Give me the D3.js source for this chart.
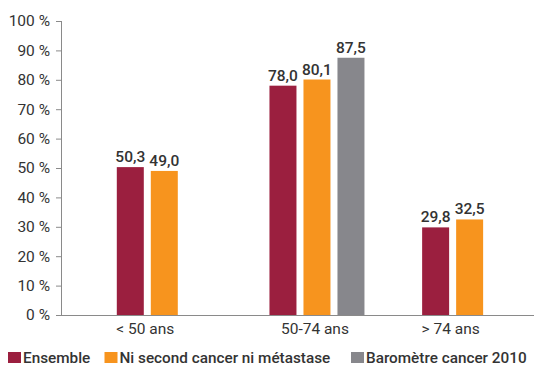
<!DOCTYPE html>
<html><head><meta charset="utf-8">
<script src="https://cdn.jsdelivr.net/npm/d3@7"></script>
<style>
body{margin:0;background:#fff;}
svg{display:block;font-family:Roboto,"Noto Sans",sans-serif;}
</style></head>
<body>
<svg id="c" width="535" height="366"></svg>
<script>
const categories = ["< 50 ans", "50-74 ans", "> 74 ans"];
const seriesNames = ["Ensemble", "Ni second cancer ni métastase", "Baromètre cancer 2010"];
const ensemble = [50.3, 78.0, 29.8];
const niSecond = [49.0, 80.1, 32.5];
const barometre = [null, 87.5, null];
const yTicks = [0, 10, 20, 30, 40, 50, 60, 70, 80, 90, 100];
const colors = ["#9b1f3f", "#f7941e", "#87878c"];

const seriesValues = [ensemble, niSecond, barometre];
const svg = d3.select("#c");
const yTop = 21, yBot = 315, axisX = 62;
const y = d3.scaleLinear().domain([0, 100]).range([yBot, yTop]);
const x0 = d3.scaleBand().domain(categories).range([88, 546]).padding(0);
const x1 = d3.scaleBand().domain(seriesNames).range([28.8, 123.8]).paddingInner(0.206).paddingOuter(0);

// y axis
const yAxis = d3.axisLeft(y).tickValues(yTicks).tickSize(6).tickPadding(6).tickFormat(d => d + " %");
const gy = svg.append("g").attr("transform", `translate(${axisX},0)`).call(yAxis);
gy.select(".domain").attr("stroke", "#8a8a8a").attr("d", `M-0.5,${yTop}V${yBot}`);
gy.selectAll(".tick line").attr("stroke", "#8a8a8a");
gy.selectAll(".tick text").attr("fill", "#333").style("font-size", "15.5px").style("font-family", "Roboto");

// baseline
svg.append("line").attr("x1", 56).attr("x2", 534).attr("y1", yBot + 0.5).attr("y2", yBot + 0.5).attr("stroke", "#8a8a8a");

// bars
const data = [];
categories.forEach((c, i) => {
  seriesNames.forEach((s, j) => {
    const v = seriesValues[j][i];
    if (v != null) data.push({c, s, v, j});
  });
});
const g = svg.append("g");
g.selectAll("rect").data(data).enter().append("rect")
  .attr("x", d => x0(d.c) + x1(d.s))
  .attr("width", x1.bandwidth())
  .attr("y", d => y(d.v))
  .attr("height", d => yBot - y(d.v))
  .attr("fill", d => colors[d.j]);
g.selectAll("text.val").data(data).enter().append("text").attr("class", "val")
  .attr("x", d => x0(d.c) + x1(d.s) + x1.bandwidth() / 2)
  .attr("y", d => y(d.v) - 5)
  .attr("text-anchor", "middle")
  .attr("fill", "#333")
  .style("font-size", "15.5px").style("font-weight", 500)
  .text(d => d3.format(".1f")(d.v).replace(".", ","));

// category labels centered on present bars
categories.forEach((c, i) => {
  const present = seriesNames.filter((s, j) => seriesValues[j][i] != null);
  const cx = d3.mean(present, s => x0(c) + x1(s) + x1.bandwidth() / 2);
  svg.append("text").attr("x", cx - 2).attr("y", 334).attr("text-anchor", "middle")
    .attr("fill", "#333").style("font-size", "15.5px").text(c);
});

// legend
const legX = [8, 104.5, 351];
seriesNames.forEach((s, j) => {
  svg.append("rect").attr("x", legX[j]).attr("y", 352).attr("width", 13).attr("height", 11).attr("fill", colors[j]);
  svg.append("text").attr("x", legX[j] + 15).attr("y", 363).attr("fill", "#333")
    .style("font-size", "15.3px").style("font-weight", 500).text(s);
});
</script>
</body></html>
